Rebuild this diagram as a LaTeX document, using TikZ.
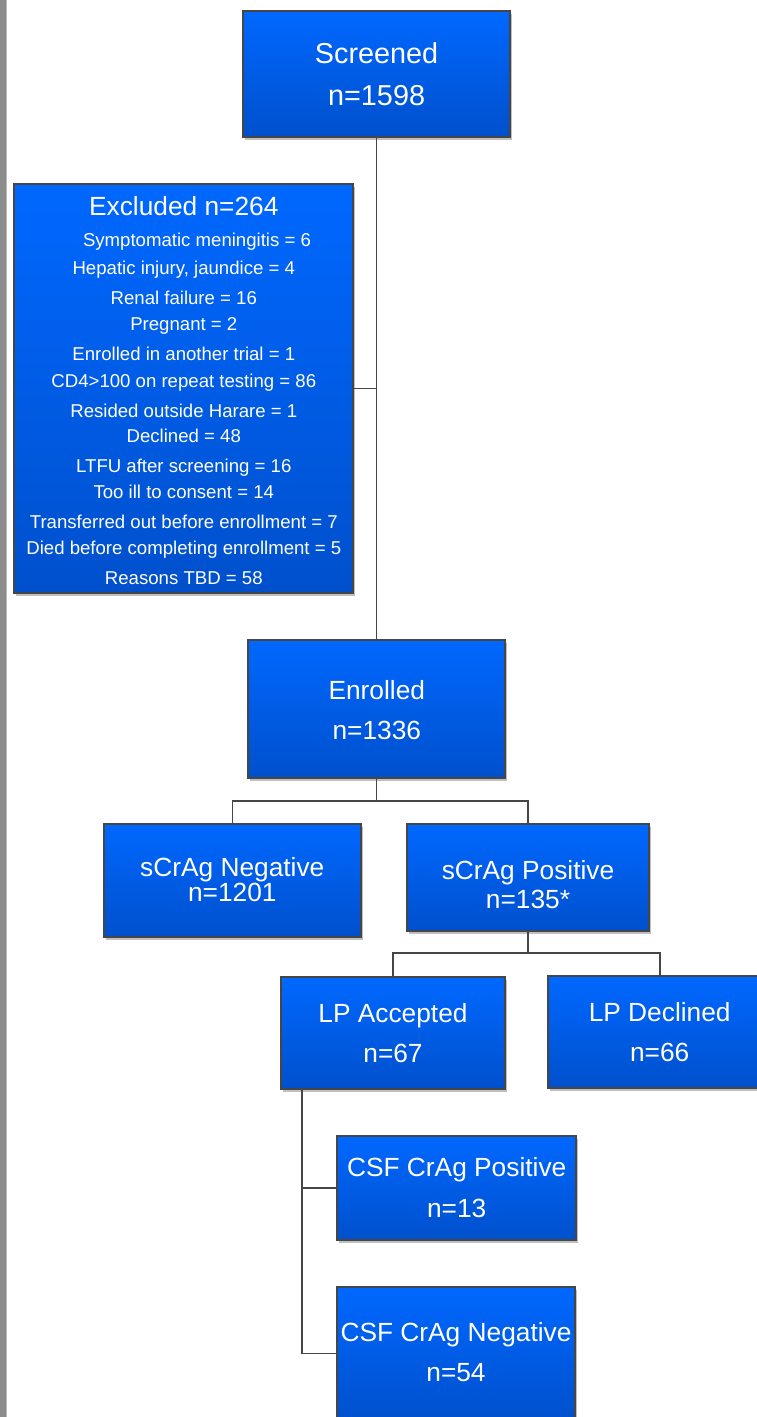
\documentclass[tikz,border=0pt]{standalone}
\usepackage{fontspec}
\setmainfont{Liberation Sans}
\usetikzlibrary{shadows}
\definecolor{btop}{RGB}{0,104,255}
\definecolor{bbot}{RGB}{0,80,204}
\definecolor{edge}{RGB}{70,70,70}
\definecolor{strip}{RGB}{140,140,140}
\definecolor{stripl}{RGB}{185,185,185}
\tikzset{
  box/.style={rectangle, draw=edge, line width=1.8pt, top color=btop, bottom color=bbot,
    drop shadow={shadow xshift=2pt, shadow yshift=-3pt, fill=black, opacity=0.25}},
  link/.style={draw=edge, line width=1.8pt},
  big/.style={text=white, anchor=base, inner sep=0pt, font=\fontsize{26.3}{30}\selectfont},
  huge/.style={text=white, anchor=base, inner sep=0pt, font=\fontsize{28.8}{32}\selectfont},
  small/.style={text=white, anchor=base, inner sep=0pt, font=\fontsize{18.6}{21}\selectfont}
}
\begin{document}
\begin{tikzpicture}[x=1pt,y=-1pt]
\useasboundingbox (0,0) rectangle (757,1417);
\clip (0,0) rectangle (757,1417);
\fill[white] (0,0) rectangle (757,1417);
\fill[strip] (0,0) rectangle (6,1417);
\fill[stripl] (6,0) rectangle (7,1417);

% boxes
\node[box, minimum width=267pt, minimum height=126pt] (scr) at (376.5,74) {};
\node[box, minimum width=339pt, minimum height=409pt] (exc) at (183.5,388.5) {};
\node[box, minimum width=257pt, minimum height=138pt] (enr) at (376.5,709) {};
\node[box, minimum width=257pt, minimum height=113pt] (neg) at (232.5,880.5) {};
\node[box, minimum width=242pt, minimum height=107pt] (pos) at (528,877.5) {};
\node[box, minimum width=224pt, minimum height=112pt] (lpa) at (393,1033) {};
\node[box, minimum width=224pt, minimum height=112pt] (lpd) at (660,1032) {};
\node[box, minimum width=239pt, minimum height=104pt] (csp) at (456.5,1188) {};
\node[box, minimum width=238pt, minimum height=133pt] (csn) at (456,1353.5) {};

% connectors
\coordinate (j1) at (376.5,801);
\coordinate (j2) at (528,953);
\coordinate (t1) at ([xshift=22pt]lpa.south west);
\draw[link] (scr.south) -- (enr.north);
\draw[link] (exc.east) -- (exc.east -| scr.south);
\draw[link] (enr.south) -- (j1);
\draw[link] (neg.north) |- (j1) -| (pos.north);
\draw[link] (pos.south) -- (j2);
\draw[link] (lpa.north) |- (j2) -| (lpd.north);
\draw[link] (t1) |- (csn.west);
\draw[link] (csp.west) -- (csp.west -| t1);

% texts
\node[huge] (scr1) at (376.6,63.3) {Screened};
\node[huge] (scr2) at (376.6,105) {n=1598};

\node[big] (exc0) at (183.8,215) {Excluded n=264};
\node[small] (e1) at (197,246) {Symptomatic meningitis = 6};
\node[small] (e2) at (183.8,274) {Hepatic injury, jaundice = 4};
\node[small] (e3) at (183.8,304) {Renal failure = 16};
\node[small] (e4) at (183.8,330) {Pregnant = 2};
\node[small] (e5) at (183.8,360) {Enrolled in another trial = 1};
\node[small] (e6) at (183.8,387) {CD4>100 on repeat testing = 86};
\node[small] (e7) at (183.8,417) {Resided outside Harare = 1};
\node[small] (e8) at (183.8,442) {Declined = 48};
\node[small] (e9) at (183.8,472) {LTFU after screening = 16};
\node[small] (e10) at (183.8,498) {Too ill to consent = 14};
\node[small] (e11) at (183.8,528) {Transferred out before enrollment = 7};
\node[small] (e12) at (183.8,554) {Died before completing enrollment = 5};
\node[small] (e13) at (183.8,584) {Reasons TBD = 58};

\node[big] (enr1) at (376.8,699) {Enrolled};
\node[big] (enr2) at (376.8,739.3) {n=1336};

\node[big] (neg1) at (232.3,876.7) {sCrAg Negative};
\node[big] (neg2) at (232.3,901.7) {n=1201};

\node[big] (pos1) at (528,879.3) {sCrAg Positive};
\node[big] (pos2) at (528,908.3) {n=135*};

\node[big] (lpa1) at (393,1022.7) {LP Accepted};
\node[big] (lpa2) at (393,1062.7) {n=67};

\node[big] (lpd1) at (659.7,1021.7) {LP Declined};
\node[big] (lpd2) at (659.7,1061.7) {n=66};

\node[big] (csp1) at (456.7,1176.7) {CSF CrAg Positive};
\node[big] (csp2) at (456.7,1217.3) {n=13};

\node[big] (csn1) at (456,1341.7) {CSF CrAg Negative};
\node[big] (csn2) at (456,1381.7) {n=54};
\end{tikzpicture}
\end{document}
